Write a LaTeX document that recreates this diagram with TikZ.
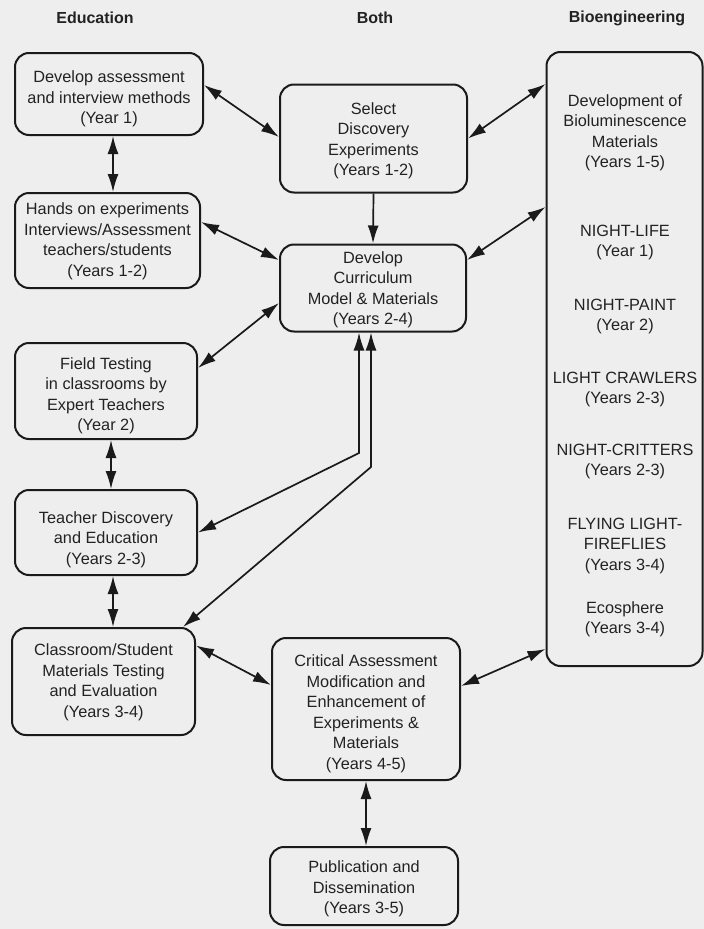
\documentclass[tikz,border=0pt]{standalone}
\usepackage{fontspec}
\setmainfont{Liberation Sans}
\usetikzlibrary{arrows.meta}
\definecolor{bgc}{HTML}{EEEEEE}
\definecolor{inkc}{HTML}{1A1A1A}
\definecolor{txtc}{HTML}{222222}
\begin{document}
\begin{tikzpicture}[x=1pt,y=-1pt,
  box/.style={draw=inkc, line width=2pt, rounded corners=14pt, inner sep=0pt},
  lbl/.style={inner sep=0pt, align=center, text=txtc, font=\fontsize{16.3}{20.5}\selectfont},
  hdr/.style={inner sep=0pt, text=txtc, font=\bfseries\fontsize{16}{20}\selectfont},
  conn/.style={draw=inkc, line width=1.7pt, {Latex[length=18pt,width=11pt]}-{Latex[length=18pt,width=11pt]}},
  one/.style={draw=inkc, line width=1.7pt, -{Latex[length=18pt,width=11pt]}}
]
\fill[bgc] (0,0) rectangle (704,929);
\useasboundingbox (0,0) rectangle (704,929);

% headers
\node[hdr] (h1) at (95,18) {Education};
\node[hdr] (h2) at (375,18) {Both};
\node[hdr] (h3) at (627,18) {Bioengineering};

% Education column
\node[box, minimum width=188pt, minimum height=82pt,
  label={[lbl,yshift=-5pt]center:{Develop assessment\\and interview methods\\(Year 1)}}] (A) at (109,94) {};
\node[box, minimum width=185pt, minimum height=95pt,
  label={[lbl,yshift=-1pt]center:{Hands on experiments\\Interviews/Assessment\\teachers/students\\(Years 1-2)}}] (B) at (107.5,240.5) {};
\node[box, minimum width=182pt, minimum height=96pt,
  label={[lbl,yshift=-5pt]center:{Field Testing\\in classrooms by\\Expert Teachers\\(Year 2)}}] (C) at (106,391) {};
\node[box, minimum width=182pt, minimum height=85pt,
  label={[lbl,yshift=-7pt]center:{Teacher Discovery\\and Education\\(Years 2-3)}}] (D) at (106,532.5) {};
\node[box, minimum width=183pt, minimum height=107pt,
  label={[lbl,yshift=-1pt]center:{Classroom/Student\\Materials Testing\\and Evaluation\\(Years 3-4)}}] (E) at (103.5,681.5) {};

% Both column
\node[box, minimum width=187pt, minimum height=108pt,
  label={[lbl,yshift=-2.5pt]center:{Select\\Discovery\\Experiments\\(Years 1-2)}}] (F) at (373.5,138.5) {};
\node[box, minimum width=186pt, minimum height=87pt,
  label={[lbl,yshift=-2pt]center:{Develop\\Curriculum\\Model \& Materials\\(Years 2-4)}}] (G) at (373,288) {};
\node[box, minimum width=188pt, minimum height=142pt,
  label={[lbl,yshift=-5pt]center:{Critical Assessment\\Modification and\\Enhancement of\\Experiments \&\\Materials\\(Years 4-5)}}] (H) at (366,709) {};
\node[box, minimum width=188pt, minimum height=78pt,
  label={[lbl,yshift=-3pt]center:{Publication and\\Dissemination\\(Years 3-5)}}] (I) at (364,886) {};

% Bioengineering column
\node[box, minimum width=156pt, minimum height=614pt] (J) at (624.5,359) {};
\node[lbl] (j1) at (625,133) {Development of\\Bioluminescence\\Materials\\(Years 1-5)};
\node[lbl] (j2) at (625,242.5) {NIGHT-LIFE\\(Year 1)};
\node[lbl] (j3) at (625,316.5) {NIGHT-PAINT\\(Year 2)};
\node[lbl] (j4) at (625,389.5) {LIGHT CRAWLERS\\(Years 2-3)};
\node[lbl] (j5) at (625,461.5) {NIGHT-CRITTERS\\(Years 2-3)};
\node[lbl] (j6) at (625,545.5) {FLYING LIGHT-\\FIREFLIES\\(Years 3-4)};
\node[lbl] (j7) at (625,619.5) {Ecosphere\\(Years 3-4)};

% connectors
\coordinate (b1) at (359,453);
\coordinate (b2) at (371,467);
\draw[conn] ([yshift=9pt]A.east) -- ([yshift=1.5pt]F.west);
\draw[conn] ([xshift=4pt]A.south) -- ([xshift=4pt]A.south |- B.north);
\draw[conn] ([yshift=18.5pt]B.east) -- ([yshift=28pt]G.west);
\draw[conn] ([yshift=23pt]C.east) -- ([yshift=-15pt]G.west);
\draw[conn] ([xshift=5pt]C.south) -- ([xshift=5pt]C.south |- D.north);
\draw[one] (F.south) -- (G.north);
\draw[conn] (D.east) -- (b1) -- (b1 |- G.south);
\draw[conn] ([xshift=-13pt]E.north east) -- (b2) -- (b2 |- G.south);
\draw[conn] ([xshift=7pt]D.south) -- ([xshift=7pt]D.south |- E.north);
\draw[conn] ([yshift=36pt]E.east) -- ([yshift=24pt]H.west);
\draw[conn] ([yshift=23pt]H.east) -- ([yshift=18pt]J.south west);
\draw[conn] (H.south) -- (H.south |- I.north);
\draw[conn] (F.east) -- ([yshift=-33pt]J.north west);
\draw[conn] ([yshift=28pt]G.east) -- ([yshift=-156pt]J.north west);
\end{tikzpicture}
\end{document}
